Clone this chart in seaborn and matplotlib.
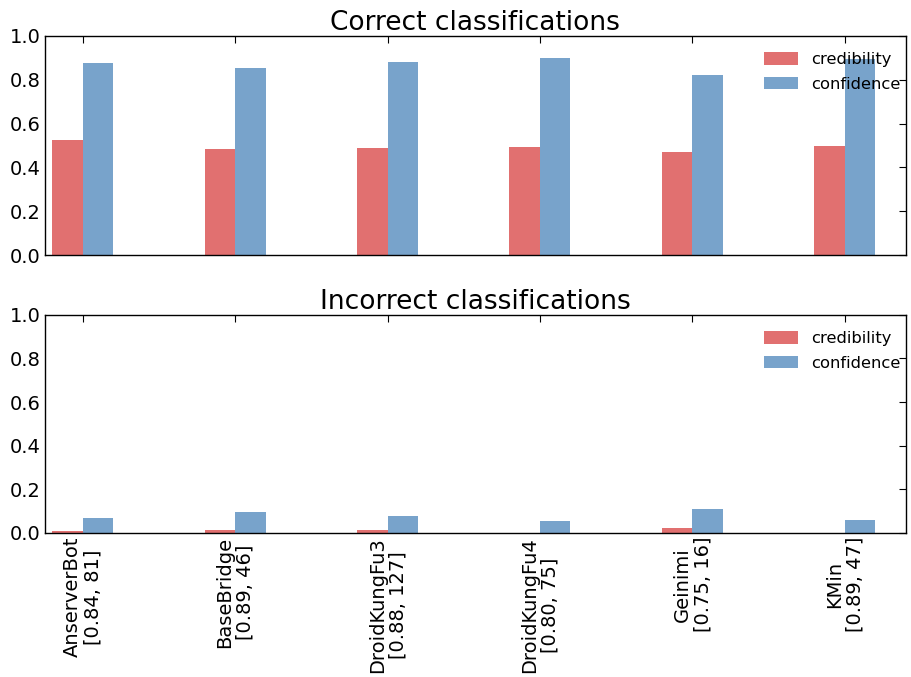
import matplotlib
matplotlib.use("Agg")
import matplotlib.pyplot as plt
import seaborn as sns
import pandas as pd

# Malware families with [threshold, sample count]
families = ["AnserverBot", "BaseBridge", "DroidKungFu3", "DroidKungFu4", "Geinimi", "KMin"]
family_info = ["[0.84, 81]", "[0.89, 46]", "[0.88, 127]", "[0.80, 75]", "[0.75, 16]", "[0.89, 47]"]

# Mean p-value scores for correctly classified samples
correct_credibility = [0.525, 0.484, 0.489, 0.493, 0.470, 0.498]
correct_confidence = [0.877, 0.853, 0.881, 0.900, 0.822, 0.894]

# Mean p-value scores for misclassified samples
incorrect_credibility = [0.006, 0.011, 0.015, 0.000, 0.020, 0.000]
incorrect_confidence = [0.069, 0.096, 0.079, 0.052, 0.110, 0.061]

metrics = ["credibility", "confidence"]
colors = {"credibility": "#e17070", "confidence": "#78a3cb"}

sns.set_style("white")
plt.rcParams.update({
    "font.family": ["DejaVu Sans"],
    "text.color": "black",
    "axes.labelcolor": "black",
    "axes.titlecolor": "black",
    "xtick.direction": "in",
    "ytick.direction": "in",
    "xtick.top": True,
    "ytick.right": True,
    "xtick.major.size": 5,
    "ytick.major.size": 5,
    "xtick.color": "black",
    "ytick.color": "black",
    "axes.edgecolor": "black",
    "axes.linewidth": 1.0,
})

labels = [f"{f}\n{info}" for f, info in zip(families, family_info)]


def frame(cred, conf):
    return pd.DataFrame({
        "family": labels * 2,
        "metric": ["credibility"] * len(labels) + ["confidence"] * len(labels),
        "value": list(cred) + list(conf),
    })


fig = plt.figure(figsize=(9.12, 6.77), dpi=100)
ax_top = fig.add_axes([0.049, 0.623, 0.944, 0.324])
ax_bot = fig.add_axes([0.049, 0.213, 0.944, 0.322])

panels = [
    (ax_top, frame(correct_credibility, correct_confidence), "Correct classifications"),
    (ax_bot, frame(incorrect_credibility, incorrect_confidence), "Incorrect classifications"),
]

for ax, df, title in panels:
    sns.barplot(data=df, x="family", y="value", hue="metric", hue_order=metrics,
                palette=colors, width=0.4, saturation=1, ax=ax, errorbar=None,
                linewidth=0)
    ax.set_xlim(-0.25, 5.4)
    ax.set_ylim(0, 1.0)
    ax.set_yticks([0.0, 0.2, 0.4, 0.6, 0.8, 1.0])
    ax.set_xlabel("")
    ax.set_ylabel("")
    ax.set_title(title, fontsize=19, pad=4, color="black")
    ax.tick_params(axis="both", labelsize=14, pad=3)
    ax.legend(loc="upper right", bbox_to_anchor=(1.0105, 0.988), frameon=False,
              fontsize=11.8, handlelength=2.1, handleheight=0.8,
              borderaxespad=0.45, labelspacing=0.57)
    for s in ax.spines.values():
        s.set_visible(True)
        s.set_color("black")

ax_top.set_xticks(range(len(labels)))
ax_top.set_xticklabels([])
ax_bot.set_xticks(range(len(labels)))
ax_bot.set_xticklabels(labels, rotation=90, fontsize=14, linespacing=1.1)

fig.savefig("out.png", dpi=100)
